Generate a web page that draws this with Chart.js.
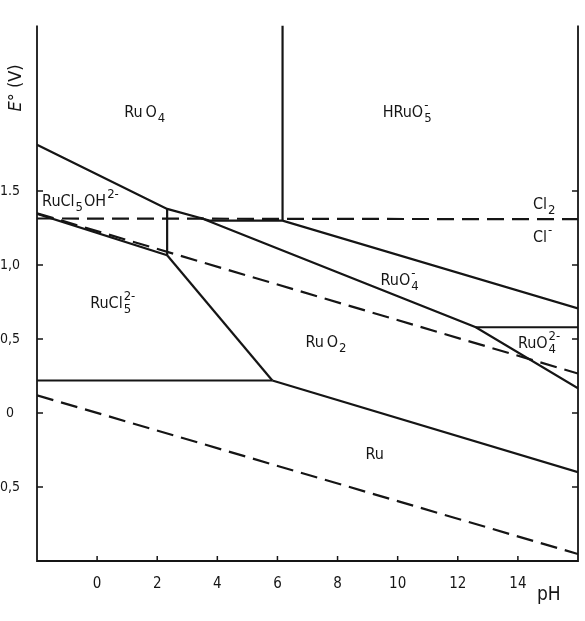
<!DOCTYPE html>
<html>
<head>
<meta charset="utf-8">
<script src="https://cdn.jsdelivr.net/npm/chart.js@4"></script>
<style>
  html, body { margin: 0; padding: 0; background: #fff; }
</style>
</head>
<body>
<canvas id="myChart" width="585" height="621"></canvas>
<script>
// axis ticks
const xTicks = [0, 2, 4, 6, 8, 10, 12, 14];
const yTicks = [-0.5, 0, 0.5, 1.0, 1.5];
const yTickLabels = ['0,5', '0', '0,5', '1,0', '1.5'];

// boundaries, [pH, E (V)]
const ruo4Upper   = [[-2, 1.813], [2.33, 1.38], [3.77, 1.30], [6.17, 1.30], [16, 0.707]];
const hruo5Wall   = [[6.17, 1.30], [6.17, 2.62]];
const ruo4mLower  = [[3.43, 1.32], [12.6, 0.58], [16, 0.167]];
const ruo42Top    = [[12.6, 0.58], [16, 0.58]];
const rucl5ohLow  = [[-2, 1.347], [2.33, 1.067]];
const rucl5ohWall = [[2.33, 1.38], [2.33, 1.067]];
const rucl5Right  = [[2.33, 1.067], [5.83, 0.22]];
const ruTop       = [[-2, 0.22], [5.83, 0.22]];
const ruo2Lower   = [[5.83, 0.22], [16, -0.40]];
// dashed reference lines
const o2Line  = [[-2, 1.35], [16, 0.267]];
const h2Line  = [[-2, 0.12], [16, -0.953]];
const cl2Line = [[-2, 1.315], [16, 1.31]];

const ink = '#151515';
const fontFam = "'Liberation Sans Narrow', 'DejaVu Sans Condensed', 'Liberation Sans', sans-serif";

function pts(arr) { return arr.map(p => ({ x: p[0], y: p[1] })); }
function solid(arr) {
  return { data: pts(arr), showLine: true, borderColor: ink, borderWidth: 2.2, pointRadius: 0, fill: false };
}
function dashed(arr) {
  return { data: pts(arr), showLine: true, borderColor: ink, borderWidth: 2.2, borderDash: [17, 8], pointRadius: 0, fill: false };
}

// region labels: text parts and anchor (pH, E) of the baseline start
const regionLabels = [
  { at: [0.9, 2.0],    parts: [{ t: 'Ru\u2009O' }, { sub: '4' }] },
  { at: [9.5, 2.0],    parts: [{ t: 'HRuO' }, { sub: '5', sup: '-' }] },
  { at: [-1.83, 1.40], parts: [{ t: 'RuCl' }, { sub: '5' }, { t: 'OH' }, { sup: '2-' }] },
  { at: [14.5, 1.38],  parts: [{ t: 'Cl' }, { sub: '2' }] },
  { at: [14.5, 1.153], parts: [{ t: 'Cl' }, { sup: '-' }] },
  { at: [9.43, 0.867], parts: [{ t: 'RuO' }, { sub: '4', sup: '-' }] },
  { at: [-0.23, 0.707],parts: [{ t: 'RuCl' }, { sub: '5', sup: '2-' }] },
  { at: [6.93, 0.447], parts: [{ t: 'Ru\u2009O' }, { sub: '2' }] },
  { at: [14.0, 0.44],  parts: [{ t: 'RuO' }, { sub: '4', sup: '2-' }] },
  { at: [8.93, -0.313],parts: [{ t: 'Ru' }] }
];

function drawFormula(ctx, x, y, parts, size) {
  const small = Math.round(size * 0.8);
  parts.forEach(p => {
    if (p.t) {
      ctx.font = size + 'px ' + fontFam;
      ctx.fillText(p.t, x, y);
      x += ctx.measureText(p.t).width;
    } else {
      ctx.font = small + 'px ' + fontFam;
      let w = 0;
      if (p.sub) { ctx.fillText(p.sub, x + 1, y + 5); w = Math.max(w, ctx.measureText(p.sub).width); }
      if (p.sup) { ctx.fillText(p.sup, x + 1, y - 8); w = Math.max(w, ctx.measureText(p.sup).width); }
      x += w + 2;
    }
  });
}

const frame = {
  id: 'frame',
  afterDraw(chart) {
    const ctx = chart.ctx, a = chart.chartArea;
    const xs = chart.scales.x, ys = chart.scales.y;
    ctx.save();
    ctx.strokeStyle = ink;
    ctx.fillStyle = ink;
    ctx.lineWidth = 1.8;
    ctx.beginPath();
    ctx.moveTo(a.left, a.top); ctx.lineTo(a.left, a.bottom);
    ctx.lineTo(a.right, a.bottom); ctx.lineTo(a.right, a.top);
    ctx.stroke();

    // inward ticks
    ctx.lineWidth = 1.5;
    ctx.beginPath();
    xTicks.forEach(v => {
      const px = xs.getPixelForValue(v);
      ctx.moveTo(px, a.bottom); ctx.lineTo(px, a.bottom - 5);
    });
    yTicks.forEach(v => {
      const py = ys.getPixelForValue(v);
      ctx.moveTo(a.left, py); ctx.lineTo(a.left + 6, py);
      ctx.moveTo(a.right, py); ctx.lineTo(a.right - 6, py);
    });
    ctx.stroke();

    ctx.textBaseline = 'alphabetic';
    ctx.textAlign = 'left';
    regionLabels.forEach(l => {
      drawFormula(ctx, xs.getPixelForValue(l.at[0]), ys.getPixelForValue(l.at[1]), l.parts, 16);
    });

    // axis titles
    ctx.font = '19px ' + fontFam;
    ctx.fillText('pH', 537, 600);

    ctx.translate(21, 88);
    ctx.rotate(-Math.PI / 2);
    ctx.textAlign = 'left';
    ctx.font = 'italic 18px ' + fontFam;
    const e = 'E°';
    const ew = ctx.measureText(e).width;
    ctx.font = '18px ' + fontFam;
    const vw = ctx.measureText(' (V)').width;
    const start = -(ew + vw) / 2;
    ctx.font = 'italic 18px ' + fontFam;
    ctx.fillText(e, start, 0);
    ctx.font = '18px ' + fontFam;
    ctx.fillText(' (V)', start + ew, 0);
    ctx.restore();
  }
};

const data = {
  datasets: [
    solid(ruo4Upper), solid(hruo5Wall), solid(ruo4mLower), solid(ruo42Top),
    solid(rucl5ohLow), solid(rucl5ohWall), solid(rucl5Right), solid(ruTop), solid(ruo2Lower),
    dashed(o2Line), dashed(h2Line), dashed(cl2Line)
  ]
};

const config = {
  type: 'scatter',
  data: data,
  options: {
    responsive: false,
    animation: false,
    layout: { padding: { top: 17, right: 7, left: 0, bottom: 0 } },
    plugins: { legend: { display: false }, tooltip: { enabled: false } },
    scales: {
      x: {
        type: 'linear', min: -2, max: 16,
        afterBuildTicks: s => { s.ticks = xTicks.map(v => ({ value: v })); },
        afterFit: s => { s.height = 60; },
        grid: { display: false, drawTicks: false },
        border: { display: false },
        ticks: { autoSkip: false, maxRotation: 0, padding: 14, color: ink, font: { family: fontFam, size: 15 } }
      },
      y: {
        type: 'linear', min: -1.0, max: 2.62,
        afterBuildTicks: s => { s.ticks = yTicks.map(v => ({ value: v })); },
        afterFit: s => { s.width = 37; },
        grid: { display: false, drawTicks: false },
        border: { display: false },
        ticks: {
          autoSkip: false, padding: 17, crossAlign: 'center', color: ink,
          font: { family: fontFam, size: 14 },
          callback: v => yTickLabels[yTicks.indexOf(v)]
        }
      }
    }
  },
  plugins: [frame]
};

var myChart = new Chart(document.getElementById('myChart'), config);
</script>
</body>
</html>
